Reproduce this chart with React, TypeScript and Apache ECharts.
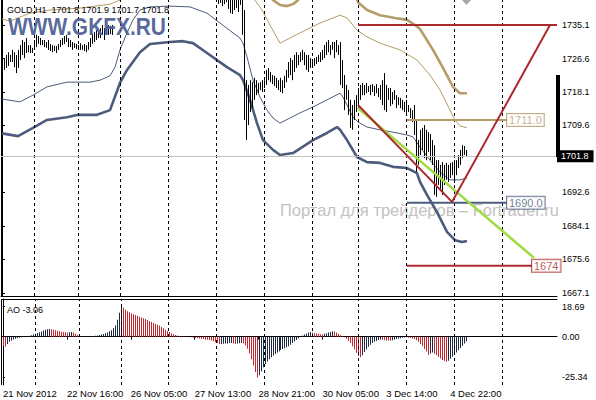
import React, { useEffect, useRef } from "react";
import * as echarts from "echarts";

// ---------- data ----------
const timeTickIdx = [0, 32, 64, 96, 128, 160, 192, 224];
const timeLabels = ["21 Nov 2012", "22 Nov 16:00", "26 Nov 05:00", "27 Nov 13:00", "28 Nov 21:00", "30 Nov 05:00", "3 Dec 14:00", "4 Dec 22:00"];
const daySeparators = [16, 38, 59, 83, 107, 131, 155, 178, 202, 226, 250];
const priceTicks = [1735.1, 1726.6, 1718.1, 1709.6, 1692.6, 1684.1, 1675.6, 1667.1];
const aoTicks = [18.69, 0, -25.34];
const lastPrice = 1701.8;
const headerText = "GOLD,H1  1701.8 1701.9 1701.7 1701.8";
const aoLabel = "AO -3.06";

// visible H1 bars, first segment (bar index 0..55)
const segAStart = 0;
const segAHigh = [1725.5, 1726.7, 1727.5, 1728.2, 1727.5, 1728.8, 1728.2, 1727.5, 1728.8, 1730.0,
  1731.3, 1730.8, 1731.8, 1730.0, 1730.0, 1729.3, 1731.3, 1732.6, 1732.3, 1731.8,
  1731.3, 1731.3, 1730.8, 1731.3, 1730.3, 1730.0, 1729.8, 1729.8, 1730.3, 1731.3,
  1731.8, 1732.3, 1732.6, 1731.8, 1731.3, 1730.8, 1730.5, 1730.3, 1730.0, 1730.5,
  1730.0, 1730.3, 1730.0, 1730.8, 1731.8, 1732.8, 1733.3, 1733.8, 1733.3, 1734.3,
  1735.1, 1734.3, 1734.3, 1735.1, 1734.9, 1735.1];
const segALow = [1722.2, 1723.7, 1724.2, 1724.7, 1725.7, 1725.7, 1724.4, 1722.9, 1724.2, 1726.2,
  1727.5, 1726.7, 1728.0, 1728.2, 1728.0, 1728.0, 1728.8, 1729.5, 1730.3, 1730.0,
  1730.0, 1729.5, 1729.3, 1728.8, 1728.5, 1728.2, 1728.5, 1728.0, 1728.8, 1729.5,
  1730.0, 1730.3, 1730.8, 1729.5, 1729.5, 1728.8, 1729.3, 1729.0, 1729.0, 1728.8,
  1728.8, 1728.5, 1728.2, 1728.8, 1729.5, 1730.3, 1730.8, 1731.3, 1731.8, 1731.8,
  1732.6, 1731.3, 1732.8, 1732.6, 1732.8, 1732.6];

// visible H1 bars, second segment (bar index 108..232)
const segBStart = 108;
const segBHigh = [1742.0, 1742.0, 1742.0, 1742.0, 1742.0, 1742.0, 1742.0, 1742.0, 1742.0, 1742.0,
  1742.0, 1742.0, 1742.0, 1738.9, 1721.1, 1719.9, 1721.1, 1720.6, 1721.7, 1721.1,
  1720.4, 1720.6, 1721.1, 1721.1, 1723.7, 1724.2, 1723.2, 1722.4, 1722.2, 1721.7,
  1721.1, 1721.7, 1721.1, 1722.2, 1723.7, 1725.7, 1726.7, 1726.2, 1727.5, 1728.2,
  1727.5, 1728.2, 1728.8, 1728.2, 1727.5, 1727.5, 1726.7, 1726.2, 1726.7, 1727.0,
  1727.5, 1728.2, 1728.8, 1730.0, 1730.8, 1731.3, 1730.0, 1730.8, 1730.8, 1731.3,
  1730.0, 1730.8, 1726.2, 1722.4, 1719.9, 1718.6, 1716.1, 1714.8, 1716.1, 1717.3,
  1719.1, 1719.9, 1720.4, 1719.9, 1720.4, 1719.6, 1719.9, 1720.1, 1719.6, 1720.1,
  1719.1, 1719.9, 1721.1, 1722.9, 1719.9, 1719.1, 1719.1, 1718.1, 1718.6, 1717.3,
  1716.8, 1716.6, 1716.1, 1715.6, 1716.1, 1714.8, 1714.0, 1713.5, 1714.8, 1711.0,
  1705.9, 1708.5, 1709.0, 1709.7, 1708.5, 1707.9, 1707.4, 1705.9, 1704.6, 1700.8,
  1700.8, 1699.6, 1700.3, 1699.6, 1700.1, 1699.6, 1700.1, 1700.3, 1700.8, 1700.8,
  1702.1, 1703.4, 1704.6, 1704.4, 1703.4];
const segBLow = [1740.4, 1740.7, 1739.9, 1740.4, 1740.9, 1739.2, 1738.1, 1737.9, 1738.9, 1739.4,
  1738.4, 1740.2, 1732.6, 1711.0, 1705.9, 1709.7, 1713.0, 1714.0, 1716.1, 1717.3,
  1717.8, 1718.6, 1718.1, 1719.1, 1719.9, 1721.1, 1720.6, 1720.1, 1719.6, 1719.1,
  1718.6, 1718.1, 1717.8, 1719.1, 1720.6, 1721.7, 1722.4, 1721.1, 1723.2, 1724.2,
  1724.9, 1725.7, 1726.2, 1724.9, 1723.7, 1723.2, 1724.2, 1724.7, 1724.7, 1725.2,
  1725.7, 1725.7, 1726.2, 1726.7, 1727.5, 1728.2, 1727.5, 1728.8, 1726.7, 1728.2,
  1727.5, 1719.9, 1719.1, 1713.5, 1716.1, 1712.3, 1709.0, 1708.5, 1711.0, 1713.0,
  1713.5, 1716.1, 1717.3, 1717.3, 1717.8, 1718.1, 1717.3, 1718.1, 1717.1, 1717.8,
  1716.8, 1716.1, 1714.8, 1713.5, 1713.0, 1716.1, 1714.5, 1715.0, 1716.1, 1714.0,
  1714.8, 1714.0, 1713.5, 1713.0, 1712.8, 1713.0, 1711.5, 1710.5, 1707.2, 1697.8,
  1699.6, 1702.1, 1703.4, 1701.3, 1700.8, 1702.9, 1700.8, 1699.6, 1692.0, 1691.5,
  1694.5, 1693.2, 1692.0, 1694.5, 1695.8, 1695.3, 1696.3, 1697.0, 1695.0, 1697.0,
  1698.8, 1699.6, 1701.3, 1702.1, 1701.6];

// band lines [bar index, price]
const outerLower = [[0, 1707.6], [8, 1706.9], [15.5, 1709.0], [22.5, 1711.0], [32.5, 1711.7], [38, 1712.3], [47.5, 1712.3], [54, 1713.5], [59, 1720.4], [62.5, 1723.7], [69, 1728.2], [74, 1730.3], [84, 1730.8], [90.5, 1731.0], [95.5, 1730.5], [102.5, 1728.0], [107.5, 1726.2], [112.5, 1724.4], [119, 1722.4], [120.5, 1721.1], [124, 1716.1], [127.5, 1710.2], [130.5, 1705.9], [135.5, 1703.4], [139, 1702.1], [145.5, 1702.6], [155.5, 1705.9], [162.5, 1707.7], [167.5, 1709.2], [169, 1708.5], [172.5, 1705.9], [177.5, 1701.6], [182.5, 1700.3], [189, 1700.1], [195.5, 1699.1], [202.5, 1698.8], [207.5, 1697.5], [209, 1695.3], [212.5, 1692.0], [217.5, 1687.6], [222.5, 1682.6], [226.5, 1680.5], [230, 1680.0], [232.5, 1680.3]];
const innerLower = [[0, 1716.3], [9, 1715.6], [15.5, 1717.3], [22.5, 1719.4], [32.5, 1720.6], [44, 1720.6], [49, 1721.1], [54, 1722.2], [56.5, 1724.4], [59, 1728.8], [62.5, 1733.1], [65.5, 1736.4], [69, 1738.9], [74, 1739.7], [84, 1739.9], [94, 1739.7], [102.5, 1738.1], [109, 1735.6], [115.5, 1733.1], [119, 1731.8], [120.5, 1730.5], [122.5, 1727.0], [125.5, 1721.1], [129, 1716.8], [132.5, 1713.5], [135.5, 1711.5], [139, 1710.2], [144, 1711.5], [149, 1712.8], [155.5, 1714.3], [162.5, 1716.1], [169, 1717.8], [170.5, 1716.8], [172.5, 1714.8], [175.5, 1711.7], [178, 1710.5], [182.5, 1709.2], [189, 1708.5], [195.5, 1707.9], [202.5, 1707.2], [205.5, 1706.7], [209, 1704.1], [214, 1700.8], [219, 1697.8], [224, 1695.8], [229, 1695.8], [232.5, 1696.3]];
const innerUpper = [[0, 1736.6], [4, 1736.1], [14, 1738.1], [24, 1738.9], [39, 1739.4], [54, 1740.4], [59, 1741.4], [62, 1743], [123, 1743], [126.5, 1741.4], [130, 1738.9], [134, 1735.1], [139, 1730.5], [144, 1731.8], [149, 1733.1], [159, 1735.6], [169, 1737.6], [172.5, 1736.9], [177.5, 1733.8], [182.5, 1732.1], [189, 1730.5], [199, 1728.8], [207.5, 1726.2], [214, 1722.4], [219, 1718.6], [224, 1713.5], [226.5, 1711.0], [229, 1709.5], [232.5, 1709.0]];
const outerUpper = [[134, 1743], [135.5, 1741.4], [139, 1740.2], [142.5, 1739.9], [145.5, 1740.4], [148, 1741.4], [149.5, 1743], [176.5, 1743], [178, 1740.9], [182.5, 1738.9], [189, 1737.6], [196.5, 1736.9], [202.5, 1736.4], [206.5, 1735.1], [209, 1734.1], [215.5, 1728.8], [220.5, 1724.2], [225.5, 1719.4], [229, 1717.8], [232.5, 1717.8]];

// drawn objects [bar index, price]
const targetLine = [[178, 1735.1], [277.5, 1735.1]];
const vLine = [[178, 1714.8], [225, 1690.2], [274, 1735.1]];
const greenTrend = [[178, 1714.0], [266, 1676.0]];
const level1711 = [[202.5, 1711.0], [252.5, 1711.0]];
const level1690 = [[202.5, 1690.0], [252.5, 1690.0]];
const level1674 = [[202.5, 1674.0], [265, 1674.0]];

// Awesome Oscillator, one value per bar 0..232
const aoValues = [-5.8, -6.2, -4.5, -3.2, -2.4, -1.8, -1.3, -0.9, -0.6, -0.3,
  -0.1, 0.2, 0.4, 0.6, 0.9, 1.3, 1.8, 2.3, 2.8, 3.3,
  3.8, 4.3, 4.6, 4.8, 4.6, 4.3, 4.0, 3.7, 3.4, 3.1,
  2.9, 2.7, 2.6, 2.8, 3.0, 2.6, 1.9, 1.2, 0.6, 0.3,
  0.1, 0.05, 0.2, 0.3, 0.4, 0.5, 0.6, 0.8, 1.0, 1.3,
  1.7, 2.1, 2.6, 3.2, 4.0, 5.2, 7.0, 10.5, 15.0, 18.69,
  18.0, 16.8, 15.9, 15.2, 14.6, 14.0, 13.5, 13.0, 12.5, 12.0,
  11.5, 11.0, 10.4, 9.8, 9.2, 8.6, 8.0, 7.4, 6.8, 6.0,
  5.2, 4.4, 3.6, 2.9, 2.2, 1.6, 1.1, 0.7, 0.4, 0.2,
  0.1, 0.05, 0.0, -0.1, -0.3, -0.5, -0.7, -0.9, -1.1, -1.3,
  -1.5, -1.7, -1.9, -2.1, -2.4, -2.8, -3.3, -4.0, -4.6, -4.5,
  -4.4, -4.3, -4.2, -4.0, -3.9, -4.2, -4.5, -4.3, -4.1, -4.0,
  -4.2, -5.5, -7.5, -10.5, -14.0, -18.0, -22.0, -25.34, -24.0, -21.5,
  -19.0, -17.0, -15.5, -14.0, -12.8, -11.7, -10.7, -9.8, -9.0, -8.3,
  -7.7, -7.2, -6.6, -5.9, -5.0, -4.0, -3.0, -2.0, -1.0, 0.0,
  0.8, 1.4, 2.0, 2.6, 3.0, 2.6, 2.2, 2.0, 1.8, 1.6,
  1.4, 1.8, 2.2, 2.6, 3.0, 3.4, 3.2, 2.6, 1.8, 1.0,
  0.3, -0.3, -1.2, -2.5, -4.0, -6.0, -8.0, -10.0, -12.0, -12.8,
  -11.5, -9.5, -7.8, -6.3, -5.0, -4.0, -3.2, -2.6, -2.1, -1.7,
  -1.9, -2.1, -2.3, -2.4, -2.5, -2.2, -1.8, -1.4, -1.1, -0.9,
  -0.7, -0.5, -0.4, -0.6, -0.8, -1.1, -1.5, -2.2, -3.2, -4.5,
  -6.0, -7.6, -9.2, -11.2, -10.4, -9.8, -10.6, -11.6, -12.6, -13.6,
  -14.5, -15.2, -15.6, -15.0, -13.8, -12.5, -11.2, -9.8, -8.4, -7.0,
  -5.6, -4.3, -3.06];

// ---------- styles ----------
const FONT = "'Liberation Sans', Arial, sans-serif";
const SLATE = "#4D5B7C";
const TAN = "#B59C68";
const RED = "#AC2A2E";
const GREEN = "#9EDC3E";
const AO_UP = "#1F2842";
const AO_DOWN = "#C8262C";

export default function App() {
  const ref = useRef<HTMLDivElement>(null);
  useEffect(() => {
    if (!ref.current) return;
    const chart = echarts.init(ref.current, undefined, { renderer: "svg" });

    const barRows: number[][] = [];
    segAHigh.forEach((h, k) => barRows.push([segAStart + k, h, segALow[k]]));
    segBHigh.forEach((h, k) => barRows.push([segBStart + k, h, segBLow[k]]));

    // AO split into rising (dark) and falling (red) bars
    const aoUpRows: number[][] = [];
    const aoDownRows: number[][] = [];
    aoValues.forEach((v, i) => {
      if (i > 0 && v > aoValues[i - 1]) aoUpRows.push([i, v]);
      else aoDownRows.push([i, v]);
    });

    const sepMark = () => ({
      silent: true,
      symbol: ["none", "none"],
      label: { show: false },
      lineStyle: { color: "#000", type: [3, 3], width: 1 },
      data: daySeparators.map((d) => ({ xAxis: d })),
    });

    const lineSeries = (data: number[][], color: string, width: number, z = 3) => ({
      type: "line",
      xAxisIndex: 0,
      yAxisIndex: 0,
      data,
      symbol: "none",
      clip: true,
      z,
      lineStyle: { color, width },
      silent: true,
    });

    const boxLabel = (pt: number[], text: string, color: string) => ({
      type: "scatter",
      xAxisIndex: 0,
      yAxisIndex: 0,
      data: [pt],
      symbolSize: 0,
      z: 6,
      silent: true,
      label: {
        show: true,
        position: "right",
        distance: 0,
        formatter: text,
        color,
        fontSize: 11,
        fontFamily: FONT,
        backgroundColor: "#fff",
        borderColor: color,
        borderWidth: 1,
        padding: [1, 2, 0, 2],
        lineHeight: 11,
      },
    });

    const aoSeries = (rows: number[][], color: string) => ({
      type: "custom", xAxisIndex: 1, yAxisIndex: 1, data: rows, z: 4, silent: true,
      encode: { x: 0, y: 1 },
      renderItem: (_params: any, api: any) => {
        const i = api.value(0);
        const v = api.value(1);
        const p0 = api.coord([i, 0]);
        const p1 = api.coord([i, v]);
        return {
          type: "rect",
          shape: { x: Math.round(p0[0]), y: Math.min(p0[1], p1[1]), width: 1, height: Math.abs(p1[1] - p0[1]) },
          style: { fill: color, stroke: null },
        };
      },
    });

    const option: any = {
      animation: false,
      backgroundColor: "#fff",
      textStyle: { fontFamily: FONT },
      grid: [
        { left: 1, top: 0, width: 556, height: 296 },
        { left: 1, top: 299, width: 556, height: 86 },
      ],
      xAxis: [
        {
          type: "value", gridIndex: 0, min: -0.5, max: 277.5, position: "bottom",
          axisLine: { show: true, lineStyle: { color: "#000", width: 1 } },
          axisTick: { show: false }, axisLabel: { show: false }, splitLine: { show: false },
        },
        {
          type: "value", gridIndex: 1, min: -0.5, max: 277.5, position: "bottom",
          axisLine: { show: true, lineStyle: { color: "#000", width: 1 } },
          axisTick: { show: true, length: 3, lineStyle: { color: "#000" }, customValues: timeTickIdx },
          axisLabel: {
            show: true, customValues: timeTickIdx, align: "left", margin: 3,
            fontSize: 9.5, color: "#000", fontFamily: FONT,
            formatter: (v: number) => timeLabels[timeTickIdx.indexOf(Math.round(v))] ?? "",
          },
          splitLine: { show: false },
        },
        {
          type: "value", gridIndex: 1, min: -0.5, max: 277.5, position: "top",
          axisLine: { show: true, lineStyle: { color: "#000", width: 1 } },
          axisTick: { show: false }, axisLabel: { show: false }, splitLine: { show: false },
        },
      ],
      yAxis: [
        {
          type: "value", gridIndex: 0, min: 1666.32, max: 1741.45, position: "right",
          axisLine: { show: true, lineStyle: { color: "#000", width: 1 } },
          axisTick: { show: true, length: 3, lineStyle: { color: "#000" }, customValues: priceTicks },
          axisLabel: {
            show: true, customValues: priceTicks, margin: 5, fontSize: 9, color: "#000", fontFamily: FONT,
            formatter: (v: number) => v.toFixed(1),
          },
          splitLine: { show: false },
        },
        {
          type: "value", gridIndex: 1, min: -30.09, max: 23.49, position: "right",
          axisLine: { show: true, lineStyle: { color: "#000", width: 1 } },
          axisTick: { show: true, length: 2, lineStyle: { color: "#000" }, customValues: aoTicks },
          axisLabel: {
            show: true, customValues: aoTicks, margin: 5, fontSize: 9, color: "#000", fontFamily: FONT,
            formatter: (v: number) => v.toFixed(2),
          },
          splitLine: { show: false },
        },
      ],
      series: [
        {
          type: "line", xAxisIndex: 0, yAxisIndex: 0, data: [], z: 1, silent: true,
          markLine: sepMark(),
        },
        {
          type: "line", xAxisIndex: 0, yAxisIndex: 0, data: [], z: 1, silent: true,
          markLine: {
            silent: true, symbol: ["none", "none"],
            lineStyle: { color: "#C0C0C0", type: "solid", width: 1 },
            label: {
              show: true, position: "end", distance: 0, formatter: lastPrice.toFixed(1),
              color: "#fff", backgroundColor: "#000", padding: [2, 5, 1, 4], fontSize: 9, fontFamily: FONT,
            },
            data: [{ yAxis: lastPrice }],
          },
        },
        {
          type: "line", xAxisIndex: 1, yAxisIndex: 1, data: [], z: 1, silent: true,
          markLine: sepMark(),
        },
        lineSeries(innerUpper, TAN, 1),
        lineSeries(outerUpper, TAN, 2.6),
        lineSeries(innerLower, SLATE, 1),
        lineSeries(outerLower, SLATE, 2.6),
        {
          type: "custom", xAxisIndex: 0, yAxisIndex: 0, data: barRows, z: 4, silent: true, clip: true,
          encode: { x: 0, y: [1, 2] },
          renderItem: (params: any, api: any) => {
            const i = api.value(0);
            const p1 = api.coord([i, api.value(1)]);
            const p2 = api.coord([i, api.value(2)]);
            const cs = params.coordSys;
            const top = Math.max(p1[1], cs.y);
            const bot = Math.min(p2[1], cs.y + cs.height);
            if (bot <= top) return { type: "group", children: [] };
            const x = Math.round(p1[0]) + 0.5;
            return { type: "line", shape: { x1: x, y1: top, x2: x, y2: bot }, style: { stroke: "#000", lineWidth: 1 } };
          },
        },
        lineSeries(targetLine, RED, 2, 5),
        lineSeries(level1711, TAN, 2, 5),
        lineSeries(level1690, SLATE, 2, 5),
        lineSeries(level1674, RED, 2, 5),
        lineSeries(greenTrend, GREEN, 2.5, 5),
        lineSeries(vLine, RED, 2, 5),
        boxLabel(level1711[1], "1711.0", TAN),
        boxLabel(level1690[1], "1690.0", SLATE),
        boxLabel(level1674[1], "1674", RED),
        aoSeries(aoUpRows, AO_UP),
        aoSeries(aoDownRows, AO_DOWN),
      ],
      graphic: [
        { type: "line", shape: { x1: 1.5, y1: 0, x2: 1.5, y2: 296 }, style: { stroke: "#000", lineWidth: 1 }, silent: true },
        { type: "line", shape: { x1: 1.5, y1: 299, x2: 1.5, y2: 385 }, style: { stroke: "#000", lineWidth: 1 }, silent: true },
        {
          type: "text", x: 280, y: 210, z: 0, silent: true,
          style: { text: "Портал для трейдеров – Fortrader.ru", font: `16.5px ${FONT}`, fill: "#C2C2C2", verticalAlign: "middle" },
        },
        {
          type: "text", x: 8, y: 27, scaleX: 0.91, z: 20, silent: true,
          style: { text: "WWW.GKFX.RU", font: `bold 23px ${FONT}`, fill: "#4E6195", verticalAlign: "middle", opacity: 0.95 },
        },
        {
          type: "text", x: 7, y: 10, z: 21, silent: true,
          style: { text: headerText, font: `9px ${FONT}`, fill: "#000", verticalAlign: "middle" },
        },
        {
          type: "text", x: 7, y: 310, z: 21, silent: true,
          style: { text: aoLabel, font: `9px ${FONT}`, fill: "#000", verticalAlign: "middle" },
        },
        { type: "polygon", shape: { points: [[462, 0], [471, 0], [466.5, 5]] }, style: { fill: "#A8A8A8" }, silent: true },
        { type: "rect", shape: { x: 556, y: 75, width: 4, height: 82 }, style: { fill: "#000" }, z: 20, silent: true },
      ],
    };

    chart.setOption(option);
    return () => chart.dispose();
  }, []);

  return (
    <div
      ref={ref}
      style={{ position: "absolute", left: 0, top: 0, width: 596, height: 400, background: "#fff" }}
    />
  );
}
